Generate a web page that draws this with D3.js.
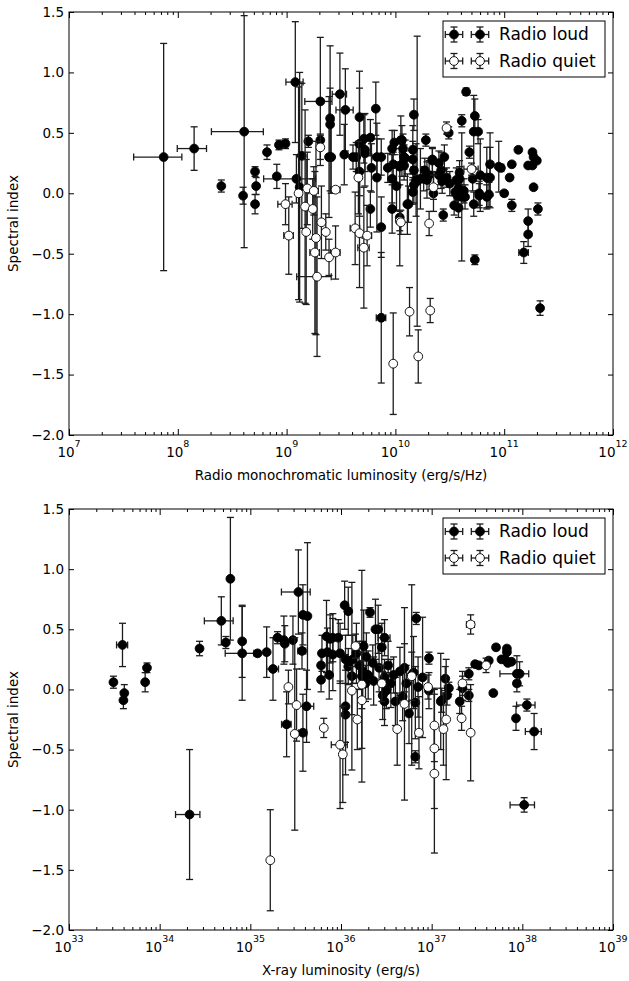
<!DOCTYPE html>
<html><head><meta charset="utf-8">
<script src="https://cdn.jsdelivr.net/npm/d3@7"></script>
<style>
body{margin:0;background:#fff}
svg{display:block}
text{font-family:"DejaVu Sans",sans-serif}
</style>
</head><body>
<svg id="chart" width="629" height="981"></svg>
<script>
// ---------- data ----------
// rows: [log10 luminosity, spectral index, index error, relative luminosity error]
const topRadioLoud = [
[7.87,0.30,0.94,0.47],[8.15,0.37,0.18,0.30],[8.40,0.06,0.05,0],[8.61,0.51,0.96,0.50],
[8.60,-0.02,0.07,0],[8.71,0.18,0.04,0],[8.72,0.06,0.07,0],[8.71,-0.09,0.08,0],
[8.82,0.34,0.06,0],[8.93,0.40,0.04,0.05],[8.99,0.41,0.04,0.05],[8.91,0.14,0.10,0],
[9.08,0.92,0.50,0.18],[9.09,0.12,0.20,0.50],[9.12,0.05,0.95,0],[9.14,0.31,0.60,0],
[9.20,0.43,0.05,0],[9.31,0.76,0.53,0.28],[9.31,0.44,0.05,0],[9.40,0.62,0.60,0],
[9.40,0.57,0.30,0],[9.39,0.30,0.50,0],[9.41,0.30,0.30,0],[9.49,0.82,0.34,0.15],
[9.54,0.69,0.34,0.18],[9.53,0.32,0.25,0],[9.61,0.30,0.10,0],[9.64,0.30,0.12,0],
[9.67,0.63,0.24,0],[9.67,0.41,0.60,0],[9.71,0.45,0.20,0],[9.72,0.36,0.30,0],
[9.72,0.33,0.15,0],[9.77,0.46,0.15,0],[9.82,0.70,0.22,0],[9.83,0.30,0.15,0.10],
[9.87,0.30,0.15,0],[9.78,0.21,0.20,0],[9.83,0.13,0.45,0],[9.67,0.18,0.20,0],
[9.77,-0.13,0.15,0],[9.87,-0.28,0.25,0],[9.87,-1.03,0.54,0.10],[9.97,0.37,0.15,0],
[10.05,0.44,0.20,0],[9.99,0.42,0.10,0],[10.07,0.37,0.12,0],[9.93,0.21,0.12,0],
[9.98,0.24,0.10,0],[10.04,0.22,0.15,0],[10.08,0.23,0.12,0],[10.09,0.29,0.15,0],
[9.97,0.12,0.20,0],[10.01,0.06,0.20,0],[9.97,-0.13,0.20,0],[10.11,-0.09,0.25,0],
[10.04,-0.20,0.40,0],[10.17,0.65,0.13,0],[10.16,0.36,0.20,0],[10.16,0.28,0.15,0],
[10.17,0.19,0.20,0],[10.19,0.11,0.30,0],[10.17,0.07,0.15,0],[10.16,0.01,0.10,0],
[10.06,0.44,0.12,0],[10.08,0.30,0.10,0],[10.06,0.24,0.10,0],[10.12,-0.09,0.15,0],
[10.20,0.10,1.20,0],[10.28,0.44,0.05,0],[10.27,0.19,0.10,0],[10.31,0.15,0.12,0],
[10.26,0.12,0.10,0],[10.29,0.11,0.15,0],[10.23,0.12,0.25,0],[10.35,0.00,0.15,0],
[10.34,0.28,0.10,0],[10.34,0.27,0.10,0],[10.45,0.30,0.10,0],[10.40,0.25,0.10,0],
[10.42,0.19,0.15,0],[10.40,0.15,0.08,0],[10.47,0.13,0.08,0],[10.43,0.10,0.10,0],
[10.50,0.08,0.10,0],[10.44,-0.18,0.05,0],[10.49,0.50,0.05,0],[10.59,0.17,0.10,0],
[10.59,0.12,0.10,0],[10.56,0.11,0.10,0],[10.58,0.04,0.10,0],[10.55,0.01,0.10,0],
[10.63,0.02,0.10,0],[10.61,-0.03,0.53,0],[10.57,-0.02,0.10,0],[10.54,-0.10,0.08,0],
[10.58,-0.12,0.08,0],[10.64,-0.03,0.10,0],[10.61,0.60,0.05,0],[10.65,0.84,0.03,0],
[10.73,0.64,0.14,0],[10.72,0.51,0.30,0],[10.76,0.51,0.10,0],[10.68,0.34,0.05,0],
[10.71,0.12,0.10,0],[10.78,0.15,0.30,0],[10.84,0.13,0.25,0],[10.87,0.13,0.25,0],
[10.87,0.24,0.26,0],[10.95,0.22,0.21,0],[10.97,0.21,0.03,0],[10.77,0.00,0.10,0],
[10.77,-0.02,0.10,0],[10.84,-0.03,0.10,0],[10.86,-0.01,0.10,0],[10.72,-0.09,0.10,0],
[10.73,-0.55,0.04,0],[11.00,0.00,0.02,0],[11.05,0.13,0.02,0],[11.07,0.24,0.02,0],
[11.07,-0.10,0.05,0],[11.13,0.36,0.02,0],[11.26,0.34,0.02,0],[11.27,0.30,0.02,0],
[11.22,0.23,0.02,0],[11.30,0.27,0.02,0],[11.26,0.23,0.02,0],[11.27,0.05,0.02,0],
[11.31,-0.13,0.05,0],[11.22,-0.23,0.10,0],[11.22,-0.34,0.10,0],[11.18,-0.49,0.09,0.10],
[11.33,-0.95,0.06,0]
];
const topRadioQuiet = [
[8.99,-0.09,0.17,0.15],[9.02,-0.35,0.32,0.10],[9.11,0.00,0.88,0],[9.19,0.04,0.30,0],
[9.25,0.02,0.20,0.10],[9.17,-0.11,0.80,0],[9.24,-0.13,0.25,0],[9.32,-0.24,0.30,0],
[9.36,-0.32,0.15,0],[9.18,-0.32,0.60,0],[9.27,-0.37,0.80,0],[9.26,-0.49,0.67,0.10],
[9.39,-0.53,0.15,0],[9.45,-0.49,0.22,0.10],[9.28,-0.69,0.66,0.35],[9.31,0.38,0.10,0],
[9.45,0.03,0.02,0.10],[9.66,0.13,0.30,0],[9.63,-0.29,0.30,0.10],[9.67,-0.33,0.45,0],
[9.74,-0.35,0.25,0.10],[9.71,-0.45,0.50,0.12],[10.04,-0.23,0.08,0],[10.05,-0.24,0.10,0],
[10.31,-0.25,0.10,0],[10.13,-0.98,0.20,0],[10.32,-0.97,0.10,0],[9.98,-1.41,0.42,0],
[10.21,-1.35,0.22,0],[10.47,0.54,0.05,0],[10.35,0.05,0.10,0],[10.70,0.20,0.05,0.15]
];
const bottomRadioLoud = [
[33.49,0.06,0.05,0],[33.59,0.37,0.18,0.14],[33.61,-0.03,0.07,0],[33.60,-0.09,0.07,0],
[33.84,0.06,0.08,0],[33.86,0.18,0.04,0],[34.33,-1.04,0.54,0.30],[34.44,0.34,0.06,0],
[34.68,0.57,0.20,0.35],[34.73,0.39,0.05,0],[34.78,0.92,0.51,0],[34.91,0.40,0.30,0],
[34.91,0.30,0.39,0.35],[35.08,0.30,0.02,0.05],[35.18,0.31,0.21,0],[35.25,0.17,0.26,0.15],
[35.30,0.43,0.05,0],[35.37,0.41,0.20,0],[35.38,0.38,0.15,0],[35.47,0.41,0.20,0],
[35.53,0.81,0.35,0.35],[35.58,0.62,0.25,0],[35.63,0.61,0.61,0],[35.57,0.32,0.15,0.10],
[35.62,-0.14,0.30,0.20],[35.40,-0.29,0.27,0.12],[35.58,-0.36,0.32,0.10],[35.78,0.20,0.10,0],
[35.78,0.08,0.10,0],[35.79,0.30,0.15,0],[35.84,0.44,0.30,0],[35.88,0.42,0.20,0],
[35.91,0.43,0.20,0],[35.97,0.43,0.15,0],[35.85,0.31,0.20,0],[35.91,0.29,0.30,0],
[35.99,0.30,0.25,0],[35.87,0.12,0.20,0],[36.04,0.70,0.20,0],[36.08,0.65,0.20,0],
[36.05,-0.14,0.30,0],[36.05,-0.21,0.50,0],[36.05,0.25,0.20,0],[36.08,0.19,0.15,0],
[36.13,0.25,0.20,0],[36.17,0.30,0.25,0],[36.25,0.36,0.30,0],[36.12,0.11,0.78,0],
[36.32,0.64,0.04,0],[36.38,0.50,0.25,0],[36.41,0.50,0.20,0],[36.48,0.43,0.15,0.15],
[36.45,0.35,0.20,0],[36.20,0.20,0.20,0],[36.24,0.15,0.25,0],[36.28,0.27,0.20,0],
[36.30,0.12,0.20,0],[36.35,0.22,0.15,0],[36.27,0.05,0.15,0],[36.36,0.07,0.20,0],
[36.42,0.18,0.20,0],[36.48,0.10,0.15,0],[36.46,-0.05,0.20,0],[36.52,0.20,0.20,0],
[36.55,0.05,0.20,0],[36.50,-0.01,0.15,0],[36.48,-0.10,0.20,0],[36.60,-0.10,0.20,0],
[36.58,0.12,0.15,0],[36.65,0.15,0.20,0],[36.70,0.18,0.20,0],[36.72,0.05,0.15,0],
[36.68,-0.06,0.20,0],[36.75,-0.20,0.25,0],[36.82,-0.11,0.30,0],[36.82,-0.56,0.05,0],
[36.83,0.59,0.05,0],[36.78,0.12,0.75,0],[36.80,0.14,0.30,0],[36.85,0.02,0.25,0],
[36.90,0.10,0.50,0],[36.97,0.26,0.05,0],[36.97,-0.01,0.15,0],[37.10,-0.10,0.40,0],
[37.15,0.09,0.10,0],[37.19,0.01,0.05,0],[37.17,-0.05,0.08,0],[37.11,-0.09,0.10,0],
[37.31,-0.10,0.10,0],[37.34,0.01,0.10,0],[37.41,0.13,0.05,0],[37.41,-0.05,0.05,0],
[37.48,0.21,0.02,0],[37.52,0.20,0.02,0],[37.63,0.24,0.02,0],[37.71,0.35,0.02,0],
[37.83,0.34,0.02,0],[37.83,0.31,0.02,0],[37.77,0.25,0.02,0],[37.81,0.25,0.02,0],
[37.88,0.23,0.02,0],[37.84,0.22,0.02,0],[37.68,-0.03,0.02,0],[37.94,0.13,0.15,0.35],
[37.97,0.13,0.10,0],[37.94,0.05,0.02,0],[38.05,-0.13,0.05,0.23],[37.93,-0.24,0.10,0],
[38.13,-0.35,0.15,0.20],[38.02,-0.96,0.06,0.30],[36.23,0.11,0.88,0]
];
const bottomRadioQuiet = [
[35.22,-1.42,0.42,0],[35.42,0.02,0.14,0],[35.51,-0.13,0.30,0],[35.49,-0.37,0.80,0],
[35.81,-0.32,0.08,0],[35.99,-0.46,0.53,0.20],[36.02,-0.54,0.40,0],[36.18,-0.25,0.25,0],
[36.23,-0.09,0.40,0],[36.16,0.36,0.10,0],[36.12,-0.01,0.20,0],[36.23,0.04,0.20,0],
[36.62,-0.33,0.30,0],[36.70,-0.12,0.80,0],[36.86,-0.36,0.30,0],[36.78,0.11,0.20,0],
[36.96,0.02,0.10,0],[37.03,-0.30,0.30,0],[37.03,-0.49,0.50,0],[37.03,-0.70,0.66,0],
[37.13,-0.33,0.30,0],[37.16,-0.25,0.50,0],[37.33,-0.24,0.10,0],[37.34,0.05,0.10,0],
[37.43,-0.36,0.40,0],[37.43,0.54,0.08,0.10],[37.60,0.20,0.06,0],[36.45,0.05,0.15,0]
];
const yTickValues = [-2.0,-1.5,-1.0,-0.5,0.0,0.5,1.0,1.5];
const topDecades = [7,8,9,10,11,12];
const bottomDecades = [33,34,35,36,37,38,39];
const legendLabels = ["Radio loud","Radio quiet"];
const yTitle = "Spectral index";
const topXTitle = "Radio monochromatic luminosity (erg/s/Hz)";
const bottomXTitle = "X-ray luminosity (erg/s)";

// ---------- drawing ----------
const svg = d3.select("#chart");
const L = 69, R = 613;
const ERR = "#1c1c1c";

function panel(opts){
  const {top, bottom, decades, loud, quiet, xTitle, id} = opts;
  const x = d3.scaleLog().domain([10**decades[0], 10**decades[decades.length-1]]).range([L, R]);
  const y = d3.scaleLinear().domain([-2, 1.5]).range([bottom, top]);
  const g = svg.append("g");
  g.append("clipPath").attr("id", id).append("rect")
    .attr("x", L).attr("y", top).attr("width", R-L).attr("height", bottom-top);
  const plot = g.append("g").attr("clip-path", `url(#${id})`);

  function series(data, fill){
    const sg = plot.append("g");
    const cap = 3.5;
    data.forEach(d => {
      const lum = 10**d[0];
      const cx = x(lum), cy = y(d[1]);
      const y0 = y(d[1]-d[2]), y1 = y(d[1]+d[2]);
      sg.append("line").attr("x1",cx).attr("x2",cx).attr("y1",y0).attr("y2",y1)
        .attr("stroke",ERR).attr("stroke-width",1.3);
      [y0,y1].forEach(yy => sg.append("line").attr("x1",cx-cap).attr("x2",cx+cap)
        .attr("y1",yy).attr("y2",yy).attr("stroke",ERR).attr("stroke-width",1.3));
      if (d[3] > 0){
        const xa = x(lum*(1-d[3])), xb = x(lum*(1+d[3]));
        sg.append("line").attr("x1",xa).attr("x2",xb).attr("y1",cy).attr("y2",cy)
          .attr("stroke",ERR).attr("stroke-width",1.3);
        [xa,xb].forEach(xx => sg.append("line").attr("x1",xx).attr("x2",xx)
          .attr("y1",cy-cap).attr("y2",cy+cap).attr("stroke",ERR).attr("stroke-width",1.3));
      }
    });
    sg.selectAll("circle.m").data(data).join("circle").attr("class","m")
      .attr("cx", d => x(10**d[0])).attr("cy", d => y(d[1])).attr("r", 4.4)
      .attr("fill", fill).attr("stroke", "#000").attr("stroke-width", 0.9);
  }
  series(loud, "#000");
  series(quiet, "#fff");

  // frame
  g.append("rect").attr("x",L).attr("y",top).attr("width",R-L).attr("height",bottom-top)
    .attr("fill","none").attr("stroke","#000").attr("stroke-width",1);

  // y axes (ticks inward, both sides)
  const yl = g.append("g").attr("transform",`translate(${L},0)`)
    .call(d3.axisLeft(y).tickValues(yTickValues).tickSizeInner(-5).tickSizeOuter(0).tickPadding(5)
      .tickFormat(d => d3.format(".1f")(d).replace("-","\u2212")));
  yl.select(".domain").remove();
  yl.selectAll("text").attr("font-size",13.5).attr("font-family","DejaVu Sans").attr("fill","#000");
  yl.selectAll("line").attr("stroke","#000");
  const yr = g.append("g").attr("transform",`translate(${R},0)`)
    .call(d3.axisRight(y).tickValues(yTickValues).tickSizeInner(-5).tickSizeOuter(0).tickFormat(""));
  yr.select(".domain").remove();
  yr.selectAll("line").attr("stroke","#000");

  // x axes: major + minor, bottom and top
  const majors = decades.map(e => 10**e);
  const minors = [];
  decades.slice(0,-1).forEach(e => { for (let k=2;k<10;k++) minors.push(k*10**e); });
  [[d3.axisBottom, bottom, -6, -3],[d3.axisTop, top, -6, -3]].forEach(([ax, pos, big, small]) => {
    const a1 = g.append("g").attr("transform",`translate(0,${pos})`)
      .call(ax(x).tickValues(majors).tickSizeInner(big).tickSizeOuter(0).tickFormat(""));
    a1.select(".domain").remove(); a1.selectAll("line").attr("stroke","#000");
    const a2 = g.append("g").attr("transform",`translate(0,${pos})`)
      .call(ax(x).tickValues(minors).tickSizeInner(small).tickSizeOuter(0).tickFormat(""));
    a2.select(".domain").remove(); a2.selectAll("line").attr("stroke","#000");
  });
  // x tick labels 10^n
  decades.forEach(e => {
    const t = g.append("text").attr("x", x(10**e)).attr("y", bottom+21.5)
      .attr("text-anchor","middle").attr("font-size",13.5).attr("fill","#000");
    t.append("tspan").text("10");
    t.append("tspan").attr("dy",-10).attr("font-size",9.5).text(String(e));
  });
  // axis titles
  g.append("text").attr("x",(L+R)/2).attr("y",bottom+45).attr("text-anchor","middle")
    .attr("font-size",13.5).attr("fill","#000").text(xTitle);
  g.append("text").attr("transform",`translate(18,${(top+bottom)/2}) rotate(-90)`)
    .attr("text-anchor","middle").attr("font-size",13.5).attr("fill","#000").text(yTitle);

  // legend
  const lx = 443, ly = top+9, lw = 162, lh = 56;
  const lg = g.append("g");
  lg.append("rect").attr("x",lx).attr("y",ly).attr("width",lw).attr("height",lh)
    .attr("fill","#fff").attr("stroke","#000").attr("stroke-width",1);
  legendLabels.forEach((lab, i) => {
    const cy = ly + 13.5 + i*26.5;
    [lx+11, lx+37].forEach(cx => {
      lg.append("line").attr("x1",cx-8.7).attr("x2",cx+8.7).attr("y1",cy).attr("y2",cy).attr("stroke",ERR).attr("stroke-width",1.3);
      lg.append("line").attr("x1",cx).attr("x2",cx).attr("y1",cy-7.5).attr("y2",cy+7.5).attr("stroke",ERR).attr("stroke-width",1.3);
      [cx-8.7,cx+8.7].forEach(xx => lg.append("line").attr("x1",xx).attr("x2",xx).attr("y1",cy-3.5).attr("y2",cy+3.5).attr("stroke",ERR).attr("stroke-width",1.3));
      [cy-7.5,cy+7.5].forEach(yy => lg.append("line").attr("x1",cx-3.5).attr("x2",cx+3.5).attr("y1",yy).attr("y2",yy).attr("stroke",ERR).attr("stroke-width",1.3));
      lg.append("circle").attr("cx",cx).attr("cy",cy).attr("r",4.4)
        .attr("fill", i===0 ? "#000" : "#fff").attr("stroke","#000").attr("stroke-width",0.9);
    });
    lg.append("text").attr("x",lx+56).attr("y",cy).attr("dy","0.35em")
      .attr("font-size",17).attr("fill","#000").text(lab);
  });
}

panel({id:"clipTop", top:12, bottom:435, decades:topDecades, loud:topRadioLoud, quiet:topRadioQuiet, xTitle:topXTitle});
panel({id:"clipBottom", top:509, bottom:930, decades:bottomDecades, loud:bottomRadioLoud, quiet:bottomRadioQuiet, xTitle:bottomXTitle});
</script>
</body></html>
